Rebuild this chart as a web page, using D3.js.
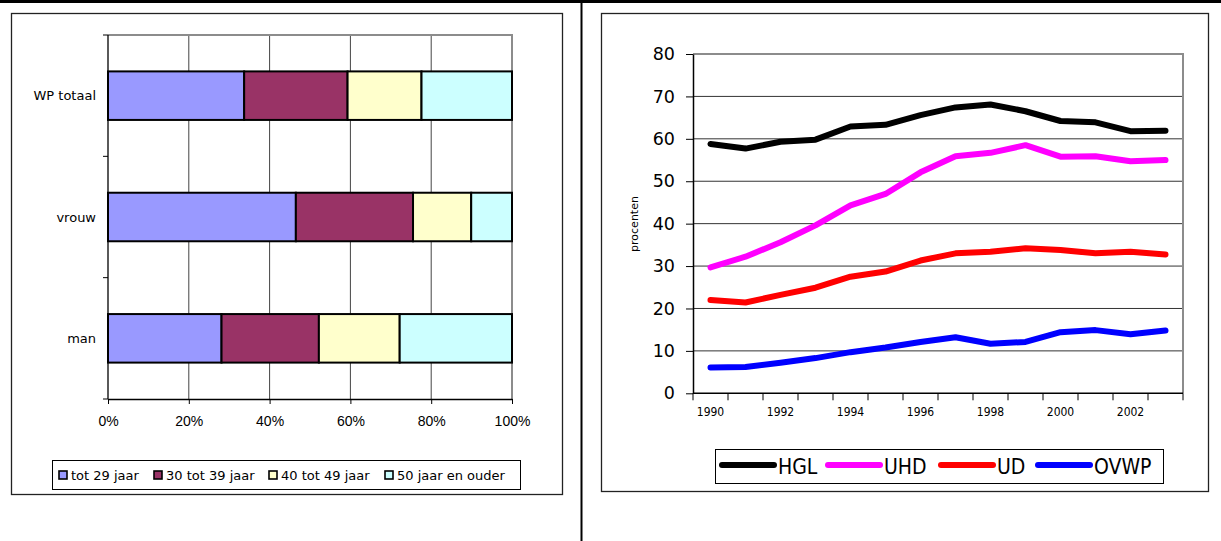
<!DOCTYPE html>
<html>
<head>
<meta charset="utf-8">
<script src="https://cdn.jsdelivr.net/npm/d3@7"></script>
<style>
  html, body { margin: 0; padding: 0; background: #fff; }
  svg { display: block; }
  .lab { font-family: "DejaVu Sans", sans-serif; fill: #000; }
  .arial { font-family: "Liberation Sans", Arial, sans-serif; fill: #000; }
  .cond { font-family: "DejaVu Sans Condensed", "DejaVu Sans", sans-serif; font-stretch: condensed; fill: #000; }
</style>
</head>
<body>
<svg id="chart" width="1221" height="541"></svg>
<script>
// ---- age structure per group (percent of total) ----
const groups = ["WP totaal", "vrouw", "man"];
const ageClasses = ["tot 29 jaar", "30 tot 39 jaar", "40 tot 49 jaar", "50 jaar en ouder"];
const ageColors = ["#9999FF", "#993366", "#FFFFCC", "#CCFFFF"];
const shareWP = [33.7, 25.6, 18.3, 22.4];
const shareVrouw = [46.5, 29.0, 14.4, 10.1];
const shareMan = [28.1, 24.1, 20.0, 27.8];
const pctTicks = [0, 20, 40, 60, 80, 100];

// ---- yearly percentages per category ----
const years = [1990, 1991, 1992, 1993, 1994, 1995, 1996, 1997, 1998, 1999, 2000, 2001, 2002, 2003];
const yearLabels = [1990, 1992, 1994, 1996, 1998, 2000, 2002];
const seriesNames = ["HGL", "UHD", "UD", "OVWP"];
const seriesColors = ["#000000", "#FF00FF", "#FF0000", "#0000FF"];
const hgl  = [58.8, 57.7, 59.3, 59.8, 62.9, 63.3, 65.6, 67.4, 68.1, 66.5, 64.2, 63.9, 61.8, 61.9];
const uhd  = [29.7, 32.2, 35.6, 39.6, 44.3, 47.0, 52.1, 55.9, 56.7, 58.5, 55.8, 55.9, 54.7, 55.0];
const ud   = [22.0, 21.4, 23.2, 24.9, 27.5, 28.7, 31.3, 33.0, 33.4, 34.2, 33.8, 33.0, 33.4, 32.7];
const ovwp = [6.1, 6.2, 7.2, 8.3, 9.7, 10.8, 12.1, 13.2, 11.7, 12.1, 14.4, 14.9, 13.9, 14.8];
const yTicks = [0, 10, 20, 30, 40, 50, 60, 70, 80];

const svg = d3.select("#chart");

// page rules: heavy top rule and the divider between the two charts
svg.append("rect").attr("x", 0).attr("y", 0).attr("width", 1221).attr("height", 3).attr("fill", "#000");
svg.append("rect").attr("x", 580.5).attr("y", 0).attr("width", 2).attr("height", 541).attr("fill", "#000");

// ================= left: stacked 100% bars =================
const L = svg.append("g");
L.append("rect").attr("x", 11.5).attr("y", 13.5).attr("width", 551).attr("height", 481)
  .attr("fill", "none").attr("stroke", "#222").attr("stroke-width", 1.3);

const xL = d3.scaleLinear().domain([0, 100]).range([108, 512]);
const yL = d3.scaleBand().domain(groups).range([35, 399]).padding(0);

// vertical gridlines
L.append("g").selectAll("line").data(pctTicks.slice(1, -1)).join("line")
  .attr("x1", d => xL(d)).attr("x2", d => xL(d))
  .attr("y1", yL.range()[0]).attr("y2", yL.range()[1])
  .attr("stroke", "#444").attr("stroke-width", 1);

// plot-area border (top and right)
L.append("path")
  .attr("d", `M${xL(0)},${yL.range()[0]}H${xL(100)}V${yL.range()[1]}`)
  .attr("fill", "none").attr("stroke", "#8c8c8c").attr("stroke-width", 2);

// stacked bars
const rows = groups.map((g, i) => {
  const vals = [shareWP, shareVrouw, shareMan][i];
  const r = { group: g };
  ageClasses.forEach((k, j) => r[k] = vals[j]);
  return r;
});
const stacked = d3.stack().keys(ageClasses)(rows);
const barH = yL.bandwidth() * 0.4;
L.append("g").selectAll("g").data(stacked).join("g")
  .attr("fill", (d, i) => ageColors[i])
  .selectAll("rect").data(d => d).join("rect")
  .attr("x", d => xL(d[0]))
  .attr("width", d => xL(d[1]) - xL(d[0]))
  .attr("y", d => yL(d.data.group) + (yL.bandwidth() - barH) / 2)
  .attr("height", barH)
  .attr("stroke", "#000").attr("stroke-width", 2);

// category axis (ticks between categories)
const edges = groups.map(g => yL(g)).concat([yL.range()[1]]);
L.append("line").attr("x1", xL(0)).attr("x2", xL(0))
  .attr("y1", yL.range()[0]).attr("y2", yL.range()[1]).attr("stroke", "#000").attr("stroke-width", 1.3);
L.append("g").selectAll("line").data(edges).join("line")
  .attr("x1", xL(0) - 5).attr("x2", xL(0)).attr("y1", d => d).attr("y2", d => d)
  .attr("stroke", "#000").attr("stroke-width", 1);
L.append("g").selectAll("text").data(groups).join("text")
  .attr("class", "lab").attr("font-size", 13)
  .attr("x", 96).attr("y", d => yL(d) + yL.bandwidth() / 2)
  .attr("text-anchor", "end").attr("dominant-baseline", "central")
  .text(d => d);

// percentage axis
const axB = L.append("g").attr("transform", `translate(0,${yL.range()[1]})`)
  .call(d3.axisBottom(xL).tickValues(pctTicks).tickFormat(d => d + "%").tickSize(5).tickSizeOuter(0).tickPadding(12));
axB.select(".domain").attr("stroke", "#000").attr("stroke-width", 1.3);
axB.selectAll("line").attr("stroke", "#000");
axB.selectAll("text").attr("class", "arial").attr("font-size", 14);

// legend
const legL = L.append("g");
legL.append("rect").attr("x", 52.5).attr("y", 460.5).attr("width", 468).attr("height", 29)
  .attr("fill", "#fff").attr("stroke", "#000").attr("stroke-width", 1);
const legLx = [59, 154, 269, 385];
ageClasses.forEach((k, i) => {
  legL.append("rect").attr("x", legLx[i]).attr("y", 471).attr("width", 8).attr("height", 8)
    .attr("fill", ageColors[i]).attr("stroke", "#000").attr("stroke-width", 1.6);
  legL.append("text").attr("class", "lab").attr("font-size", 13)
    .attr("x", legLx[i] + 12).attr("y", 475).attr("dominant-baseline", "central").text(k);
});

// ================= right: lines per year =================
const R = svg.append("g");
R.append("rect").attr("x", 601.5).attr("y", 13.5).attr("width", 607).attr("height", 478)
  .attr("fill", "none").attr("stroke", "#222").attr("stroke-width", 1.3);

const xR = d3.scaleBand().domain(years).range([693, 1183]).padding(0);
const yR = d3.scaleLinear().domain([0, 80]).range([393.3, 54]);

// horizontal gridlines
R.append("g").selectAll("line").data(yTicks.slice(1, -1)).join("line")
  .attr("x1", xR.range()[0]).attr("x2", xR.range()[1])
  .attr("y1", d => yR(d)).attr("y2", d => yR(d))
  .attr("stroke", "#333").attr("stroke-width", 1);
R.append("path")
  .attr("d", `M${xR.range()[0]},${yR(80)}H${xR.range()[1]}V${yR(0)}`)
  .attr("fill", "none").attr("stroke", "#8c8c8c").attr("stroke-width", 2);

// value axis
const axY = R.append("g").attr("transform", `translate(${xR.range()[0]},0)`)
  .call(d3.axisLeft(yR).tickValues(yTicks).tickSize(7).tickSizeOuter(0).tickPadding(11));
axY.select(".domain").attr("stroke", "#000").attr("stroke-width", 1.5);
axY.selectAll("line").attr("stroke", "#000");
axY.selectAll("text").attr("class", "lab").attr("font-size", 17.5);

R.append("text").attr("class", "lab").attr("font-size", 11)
  .attr("transform", "translate(634,224) rotate(-90)")
  .attr("text-anchor", "middle").attr("dominant-baseline", "central").text("procenten");

// year axis, ticks between categories
R.append("line").attr("x1", xR.range()[0]).attr("x2", xR.range()[1])
  .attr("y1", yR(0)).attr("y2", yR(0)).attr("stroke", "#000").attr("stroke-width", 1.5);
const yEdges = years.map(y => xR(y)).concat([xR.range()[1]]);
R.append("g").selectAll("line").data(yEdges).join("line")
  .attr("x1", d => d).attr("x2", d => d).attr("y1", yR(0)).attr("y2", yR(0) + 7)
  .attr("stroke", "#000").attr("stroke-width", 1);
R.append("g").selectAll("text").data(yearLabels).join("text")
  .attr("class", "cond").attr("font-size", 12)
  .attr("x", d => xR(d) + xR.bandwidth() / 2).attr("y", 412)
  .attr("text-anchor", "middle").attr("dominant-baseline", "central").text(d => d);

// series lines
const seriesData = [hgl, uhd, ud, ovwp];
const line = d3.line().x((d, i) => xR(years[i]) + xR.bandwidth() / 2).y(d => yR(d));
R.append("g").selectAll("path").data(seriesData).join("path")
  .attr("d", d => line(d))
  .attr("fill", "none")
  .attr("stroke", (d, i) => seriesColors[i])
  .attr("stroke-width", 6).attr("stroke-linecap", "round").attr("stroke-linejoin", "round");

// legend
const legR = R.append("g");
legR.append("rect").attr("x", 715.5).attr("y", 449.5).attr("width", 448).attr("height", 34)
  .attr("fill", "#fff").attr("stroke", "#000").attr("stroke-width", 1);
const legRline = [722, 828, 941, 1038];
seriesNames.forEach((n, i) => {
  legR.append("line").attr("x1", legRline[i]).attr("x2", legRline[i] + 52)
    .attr("y1", 465).attr("y2", 465)
    .attr("stroke", seriesColors[i]).attr("stroke-width", 6).attr("stroke-linecap", "round");
  legR.append("text").attr("class", "cond").attr("font-size", 21)
    .attr("x", legRline[i] + 56).attr("y", 467).attr("dominant-baseline", "central").text(n);
});
</script>
</body>
</html>
